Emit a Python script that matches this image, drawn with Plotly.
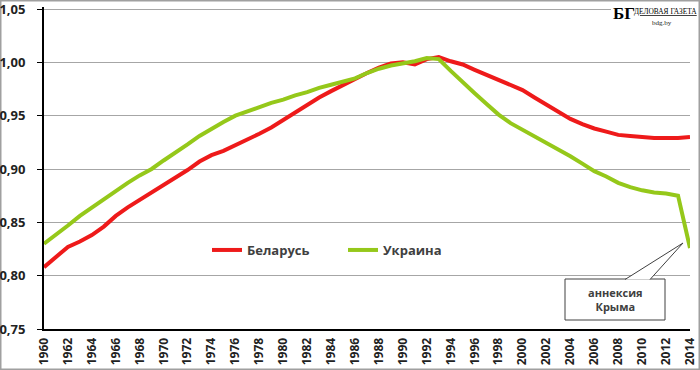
import plotly.graph_objects as go

years = list(range(1960, 2015))
belarus = [0.808, 0.818, 0.827, 0.832, 0.838, 0.846, 0.856, 0.864, 0.871, 0.878,
           0.885, 0.891, 0.899, 0.907, 0.913, 0.917, 0.922, 0.928, 0.933, 0.939,
           0.946, 0.954, 0.960, 0.967, 0.973, 0.979, 0.984, 0.990, 0.995, 0.999,
           1.000, 0.998, 1.003, 1.005, 1.001, 0.998, 0.993, 0.988, 0.984, 0.979,
           0.974, 0.967, 0.960, 0.953, 0.947, 0.942, 0.938, 0.935, 0.932, 0.931,
           0.930, 0.929, 0.929, 0.929, 0.930]
ukraine = [0.830, 0.838, 0.847, 0.856, 0.864, 0.871, 0.880, 0.887, 0.894, 0.900,
           0.908, 0.915, 0.923, 0.931, 0.938, 0.944, 0.950, 0.954, 0.958, 0.962,
           0.965, 0.969, 0.972, 0.976, 0.979, 0.982, 0.985, 0.990, 0.994, 0.997,
           0.999, 1.001, 1.004, 1.003, 0.992, 0.981, 0.971, 0.961, 0.951, 0.943,
           0.937, 0.930, 0.924, 0.918, 0.912, 0.905, 0.898, 0.893, 0.887, 0.883,
           0.880, 0.878, 0.877, 0.875, 0.826]
x_ticks = years[::2]
y_ticks = [0.75, 0.80, 0.85, 0.90, 0.95, 1.00, 1.05]
y_tick_labels = ["0,75", "0,80", "0,85", "0,90", "0,95", "1,00", "1,05"]
series_names = ["Беларусь", "Украина"]
note_text = "аннексия<br>Крыма"

W, H = 700, 370
ML, MR, MT, MB = 44, 10, 7, 41
PW, PH = W - ML - MR, H - MT - MB
Y0 = 0.75
Y1 = 1.05 + 2 * 0.30 / 320   # small headroom so the 1,05 gridline is drawn
X0, X1 = 1960, 2014


def px2x(px):
    return X0 + (px - ML) / PW * (X1 - X0)


def px2y(py):
    return Y0 + (MT + PH - py) / PH * (Y1 - Y0)


def pxpx(px):
    return (px - ML) / PW


def pxpy(py):
    return (MT + PH - py) / PH


fig = go.Figure()
fig.add_trace(go.Scatter(x=years, y=belarus, name=series_names[0], mode="lines",
                         line=dict(color="#ee1a1a", width=4)))
fig.add_trace(go.Scatter(x=years, y=ukraine, name=series_names[1], mode="lines",
                         line=dict(color="#95c81a", width=4)))

fig.update_layout(
    width=W, height=H,
    margin=dict(l=ML, r=MR, t=MT, b=MB, autoexpand=False),
    paper_bgcolor="white", plot_bgcolor="white",
    font=dict(family="Open Sans", color="#333333"),
    showlegend=True,
    legend=dict(orientation="h", x=pxpx(207), xanchor="left",
                y=pxpy(250), yanchor="middle",
                font=dict(size=13, color="#404040", weight="bold"),
                entrywidth=91, entrywidthmode="pixels",
                bgcolor="rgba(0,0,0,0)"),
    xaxis=dict(range=[X0, X1], tickvals=x_ticks, ticktext=[str(v) for v in x_ticks],
               tickangle=-90, showgrid=False, zeroline=False, automargin=False,
               showline=True, linecolor="black", linewidth=2,
               ticks="", ticklabelstandoff=2, ticklabeloverflow="allow",
               tickfont=dict(size=12, color="#222222", weight="bold")),
    yaxis=dict(range=[Y0, Y1], tickvals=y_ticks, ticktext=y_tick_labels,
               showgrid=True, gridcolor="#a6a6a6", gridwidth=1, zeroline=False,
               automargin=False,
               showline=True, linecolor="black", linewidth=2,
               ticks="outside", ticklen=5, tickcolor="black", tickwidth=1,
               ticklabelstandoff=9, ticklabeloverflow="allow",
               tickfont=dict(size=13, color="#222222", weight="bold")),
)

shapes = []
# outer frame
shapes.append(dict(type="rect", xref="paper", yref="paper",
                   x0=pxpx(0.75), x1=pxpx(W - 0.75),
                   y0=pxpy(H - 0.75), y1=pxpy(0.75),
                   line=dict(color="#a0a0a0", width=1.5), layer="below"))
# logo background
shapes.append(dict(type="rect", xref="paper", yref="paper",
                   x0=pxpx(611), x1=pxpx(W - 2),
                   y0=pxpy(30), y1=pxpy(2),
                   fillcolor="white", line=dict(width=0), layer="above"))
# callout box
bx0, bx1, by0, by1 = 565, 665, 279, 320
shapes.append(dict(type="rect", xref="x", yref="y",
                   x0=px2x(bx0), x1=px2x(bx1), y0=px2y(by1), y1=px2y(by0),
                   fillcolor="white", line=dict(color="#404040", width=1), layer="above"))
tipx, tipy = px2x(683), px2y(243)
shapes.append(dict(type="path", xref="x", yref="y",
                   path=f"M {px2x(625)},{px2y(279.5)} L {tipx},{tipy} L {px2x(650)},{px2y(279.5)}",
                   fillcolor="white", line=dict(color="#404040", width=1), layer="above"))
fig.update_layout(shapes=shapes)

fig.add_annotation(x=px2x((bx0 + bx1) / 2), y=px2y((by0 + by1) / 2), xref="x", yref="y",
                   text=note_text, showarrow=False,
                   font=dict(size=11, color="#404040", weight="bold", family="Open Sans"))

# logo
fig.add_annotation(x=pxpx(612), y=pxpy(13), xref="paper", yref="paper",
                   xanchor="left", yanchor="middle", text="<b>БГ</b>", showarrow=False,
                   borderpad=0,
                   font=dict(family="Liberation Serif", size=17, color="black"))
fig.add_annotation(x=pxpx(698), y=pxpy(12), xref="paper", yref="paper",
                   xanchor="right", yanchor="middle", text="<u>ДЕЛОВАЯ ГАЗЕТА</u>", showarrow=False,
                   borderpad=0,
                   font=dict(family="Liberation Serif", size=7.4, color="black"))
fig.add_annotation(x=pxpx(662), y=pxpy(23), xref="paper", yref="paper",
                   xanchor="center", yanchor="middle", text="bdg.by", showarrow=False,
                   borderpad=0,
                   font=dict(family="Liberation Serif", size=7, color="#222222"))

fig.write_html("out.html", config={"displayModeBar": False},
               post_script="document.body.style.margin='0px';")
